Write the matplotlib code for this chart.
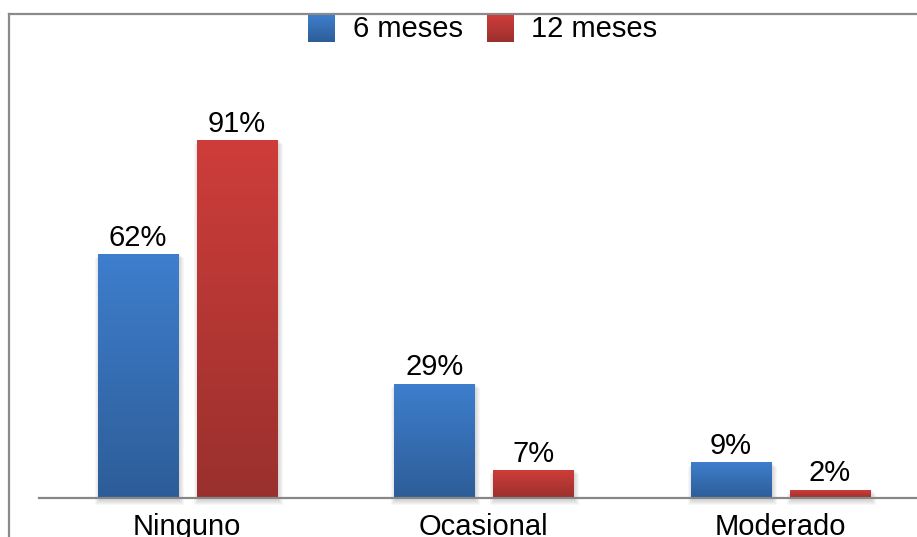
import numpy as np
import matplotlib.pyplot as plt
from matplotlib.colors import LinearSegmentedColormap
from matplotlib.patches import Rectangle
from matplotlib.lines import Line2D

plt.rcParams['font.family'] = ['Liberation Sans', 'DejaVu Sans']

categories = ['Ninguno', 'Ocasional', 'Moderado']
series_names = ['6 meses', '12 meses']
values_6m = [62, 29, 9]
values_12m = [91, 7, 2]

# top / bottom colours of the vertical gradient for each series
grad_colors = [('#3e7ecd', '#2d5d98'), ('#ce3d3a', '#9a302d')]

W, H = 917, 537
fig = plt.figure(figsize=(W / 100, H / 100), dpi=100)

ax = fig.add_axes([39 / W, (H - 498) / H, 878 / W, (498 - 105) / H])
ax.set_xlim(-0.5, -0.5 + 878 / 296.5)
ax.set_ylim(0, 100)

bar_w = 0.27
offset = 0.167
px = 1 / 296.5  # one pixel in x data units
py = 100 / 393  # one pixel in y data units


def gradient_bar(ax, x, h, top, bottom):
    cmap = LinearSegmentedColormap.from_list('g', [bottom, top])
    x0, x1 = x - bar_w / 2, x + bar_w / 2
    # soft drop shadow, a little to the right and below
    for k in range(5):
        d = k + 1
        ax.add_patch(Rectangle((x0 + (2 - d) * px, -(2 + d) * py),
                               bar_w + (2 * d - 1) * px, h + (3 - d) * py + d * py,
                               color='black', alpha=0.03, lw=0, zorder=1,
                               clip_on=False))
    grad = np.linspace(0, 1, 256).reshape(-1, 1)
    ax.imshow(grad, cmap=cmap, origin='lower', aspect='auto',
              extent=(x0, x1, 0, h), zorder=2, interpolation='bicubic')
    ax.annotate(f'{h}%', (x, h), xytext=(0, 2), textcoords='offset points',
                ha='center', va='bottom', fontsize=21, color='black', zorder=4)


xs = np.arange(len(categories))
for i, vals in enumerate([values_6m, values_12m]):
    top, bottom = grad_colors[i]
    for x, v in zip(xs, vals):
        gradient_bar(ax, x + (offset if i else -offset), v, top, bottom)

ax.set_xlim(-0.5, -0.5 + 878 / 296.5)
ax.set_ylim(0, 100)
ax.axhline(0, color='#878787', lw=1.6, zorder=3, clip_on=False)

for s in ax.spines.values():
    s.set_visible(False)
ax.set_yticks([])
ax.set_xticks(xs)
ax.set_xticklabels(categories, fontsize=21)
ax.tick_params(axis='x', length=0, pad=11)

# outer frame (top and left edges), in pixel coordinates
ov = fig.add_axes([0, 0, 1, 1], zorder=-1)
ov.set_xlim(0, W)
ov.set_ylim(H, 0)
ov.axis('off')
ov.add_line(Line2D([9, W], [14, 14], color='#8a8a8a', lw=1.6))
ov.add_line(Line2D([9, 9], [14, H], color='#8a8a8a', lw=1.6))

# legend with gradient swatches
lg = fig.add_axes([0, 0, 1, 1], zorder=5)
lg.axis('off')
lg.patch.set_alpha(0)
grad = np.linspace(0, 1, 64).reshape(-1, 1)
for (sx, tx), name, (top, bottom) in zip([(308, 353), (487, 531)],
                                         series_names, grad_colors):
    cmap = LinearSegmentedColormap.from_list('g', [top, bottom])
    lg.imshow(grad, cmap=cmap, aspect='auto', extent=(sx, sx + 27, 42, 15))
    lg.text(tx, 29, name, fontsize=21, va='center', ha='left')
lg.set_xlim(0, W)
lg.set_ylim(H, 0)

fig.savefig('out.png', dpi=100)
